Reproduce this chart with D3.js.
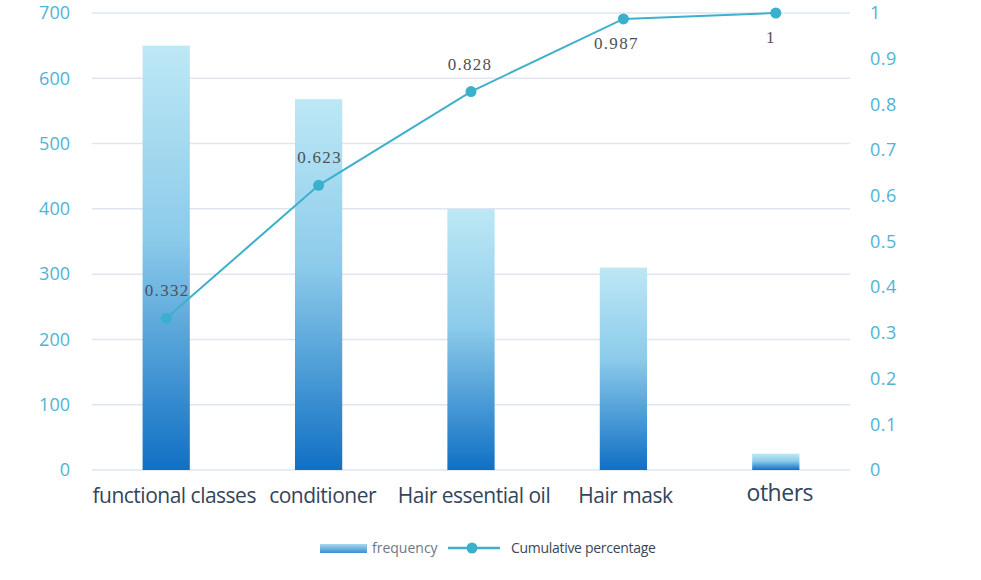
<!DOCTYPE html>
<html>
<head>
<meta charset="utf-8">
<script src="https://cdn.jsdelivr.net/npm/d3@7"></script>
<style>
  body { margin: 0; background: #fff; }
  svg { display: block; }
</style>
</head>
<body>
<div id="visualization"></div>
<script>
// chart data
const categories = ["functional classes", "conditioner", "Hair essential oil", "Hair mask", "others"];
const frequency = [650, 568, 400, 310, 25];
const cumulative = [0.332, 0.623, 0.828, 0.987, 1];
const cumLabels = ["0.332", "0.623", "0.828", "0.987", "1"];
const leftTicks = [0, 100, 200, 300, 400, 500, 600, 700];
const rightTicks = [0, 0.1, 0.2, 0.3, 0.4, 0.5, 0.6, 0.7, 0.8, 0.9, 1];

function main(){
    let width = 981;
    let height = 580;

    let svg = d3.select(document.getElementById('visualization'))
        .append('svg')
        .attr('width', width)
        .attr('height', height);

    let defs = svg.append('defs');
    let grad = defs.append('linearGradient')
        .attr('id', 'barGrad')
        .attr('x1', 0).attr('y1', 0).attr('x2', 0).attr('y2', 1);
    grad.append('stop').attr('offset', '0%').attr('stop-color', '#bde8f5');
    grad.append('stop').attr('offset', '45%').attr('stop-color', '#8ccbea');
    grad.append('stop').attr('offset', '100%').attr('stop-color', '#1170c4');

    let legGrad = defs.append('linearGradient')
        .attr('id', 'legGrad')
        .attr('x1', 0).attr('y1', 0).attr('x2', 0).attr('y2', 1);
    legGrad.append('stop').attr('offset', '0%').attr('stop-color', '#a6d9f0');
    legGrad.append('stop').attr('offset', '100%').attr('stop-color', '#3b8fcf');

    // scales
    let x = d3.scaleBand()
        .domain(categories)
        .range([90, 852])
        .paddingInner(0.69)
        .paddingOuter(0.345);

    let yLeft = d3.scaleLinear().domain([0, 700]).range([470, 13]);
    let yRight = d3.scaleLinear().domain([0, 1]).range([470, 13]);

    // gridlines
    svg.append('g')
        .selectAll('line')
        .data(leftTicks)
        .enter()
        .append('line')
            .attr('x1', 92)
            .attr('x2', 850)
            .attr('y1', d => yLeft(d))
            .attr('y2', d => yLeft(d))
            .attr('stroke', '#dfe5f0')
            .attr('stroke-width', 1.5);

    // left axis
    let leftAxis = svg.append('g')
        .attr('transform', 'translate(70,0)')
        .call(d3.axisLeft(yLeft).tickValues(leftTicks).tickSize(0).tickPadding(0));
    leftAxis.select('.domain').remove();
    leftAxis.selectAll('text')
        .attr('fill', '#4fb3d6')
        .style('font-family', 'Open Sans, sans-serif')
        .style('font-size', '18px');

    // right axis
    let rightAxis = svg.append('g')
        .attr('transform', 'translate(870,0)')
        .call(d3.axisRight(yRight).tickValues(rightTicks).tickFormat(d3.format('~g')).tickSize(0).tickPadding(0));
    rightAxis.select('.domain').remove();
    rightAxis.selectAll('text')
        .attr('fill', '#4fb3d6')
        .style('font-family', 'Open Sans, sans-serif')
        .style('font-size', '18px')
        .style('letter-spacing', '0.5px');

    // bars
    svg.append('g')
        .selectAll('rect')
        .data(frequency)
        .enter()
        .append('rect')
            .attr('x', (d, i) => x(categories[i]))
            .attr('y', d => yLeft(d))
            .attr('width', x.bandwidth())
            .attr('height', d => yLeft(0) - yLeft(d))
            .style('fill', 'url(#barGrad)');

    // category labels
    let catShift = [8, 4, 3, 2, 4];
    svg.append('g')
        .selectAll('text')
        .data(categories)
        .enter()
        .append('text')
            .attr('x', (d, i) => x(d) + x.bandwidth() / 2 + catShift[i])
            .attr('y', (d, i) => i === 4 ? 501 : 503)
            .attr('text-anchor', 'middle')
            .text(d => d)
            .attr('fill', '#33455a')
            .style('font-family', 'Open Sans, sans-serif')
            .style('font-size', (d, i) => i === 4 ? '23px' : '21px')
            .style('letter-spacing', '-0.5px');

    // cumulative line
    let line = d3.line()
        .x((d, i) => x(categories[i]) + x.bandwidth() / 2)
        .y(d => yRight(d));

    svg.append('path')
        .datum(cumulative)
        .attr('d', line)
        .attr('fill', 'none')
        .attr('stroke', '#3fb0cc')
        .attr('stroke-width', 2);

    svg.append('g')
        .selectAll('circle')
        .data(cumulative)
        .enter()
        .append('circle')
            .attr('cx', (d, i) => x(categories[i]) + x.bandwidth() / 2)
            .attr('cy', d => yRight(d))
            .attr('r', 5.5)
            .attr('fill', '#3ab0cc');

    let labelShift = [1, 1, -1, -7, -5];
    svg.append('g')
        .selectAll('text')
        .data(cumulative)
        .enter()
        .append('text')
            .attr('x', (d, i) => x(categories[i]) + x.bandwidth() / 2 + labelShift[i])
            .attr('y', (d, i) => yRight(d) + (i >= 3 ? 30 : -22))
            .attr('text-anchor', 'middle')
            .text((d, i) => cumLabels[i])
            .attr('fill', '#4d5257')
            .style('font-family', 'Liberation Serif, serif')
            .style('font-size', '17px')
            .style('letter-spacing', '1.3px');

    // legend
    let legend = svg.append('g');
    legend.append('rect')
        .attr('x', 320).attr('y', 544)
        .attr('width', 47).attr('height', 9)
        .style('fill', 'url(#legGrad)');
    legend.append('text')
        .attr('x', 372).attr('y', 553)
        .text('frequency')
        .attr('fill', '#6b7885')
        .style('font-family', 'Open Sans, sans-serif')
        .style('font-size', '14px');
    legend.append('line')
        .attr('x1', 448).attr('x2', 500)
        .attr('y1', 548).attr('y2', 548)
        .attr('stroke', '#3fb0cc').attr('stroke-width', 2.5);
    legend.append('circle')
        .attr('cx', 472).attr('cy', 548).attr('r', 5.5)
        .attr('fill', '#3ab0cc');
    legend.append('text')
        .attr('x', 511).attr('y', 553)
        .text('Cumulative percentage')
        .attr('fill', '#3a4756')
        .style('font-family', 'Open Sans, sans-serif')
        .style('font-size', '14px')
        .style('letter-spacing', '-0.3px');
}

window.onload = () => {
    main();
}
</script>
</body>
</html>
